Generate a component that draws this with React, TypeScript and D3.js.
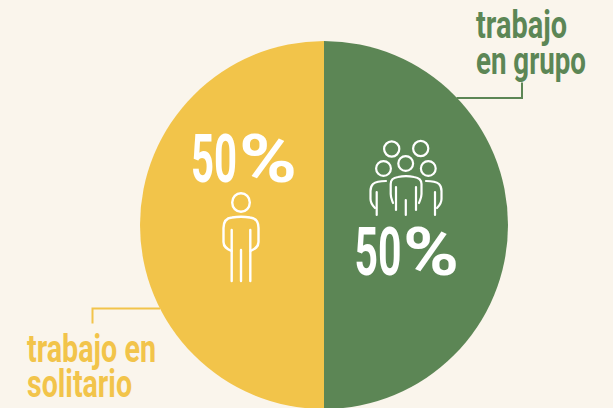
import React from "react";
import * as d3 from "d3";

const width = 613;
const height = 408;
const categories = ["trabajo en grupo", "trabajo en solitario"];
const shares = [50, 50];
const colors = ["#5C8655", "#F2C44A"];
const font = "'Liberation Sans Narrow', 'Roboto', sans-serif";

const labelLines = [
  { text: "trabajo", x: 476, y: 38, len: 91, size: 39, fill: colors[0] },
  { text: "en grupo", x: 476, y: 74, len: 110, size: 39, fill: colors[0] },
  { text: "trabajo en", x: 27, y: 362, len: 129, size: 39, fill: colors[1] },
  { text: "solitario", x: 27, y: 397, len: 105, size: 39, fill: colors[1] },
];
const pctLabels = [
  { value: "50", sign: "%", x: 191, y: 181.5, numLen: 46, signX: 239, signLen: 58 },
  { value: "50", sign: "%", x: 354.5, y: 275, numLen: 47, signX: 403, signLen: 56 },
];

function Person({ cx, top }: { cx: number; top: number }) {
  return (
    <g transform={`translate(${cx},${top})`} fill="none" stroke="#fff" strokeWidth={2.4} strokeLinecap="round" strokeLinejoin="round">
      <ellipse cx={0} cy={9.5} rx={8.8} ry={9.3} />
      <path d="M-9.5,58 C-14,56 -17.5,54 -17.5,49 L-17.5,35 C-17.5,28 -14,25 -9,24.5 C-3,23.5 3,23.5 9,24.5 C14,25 17.5,28 17.5,35 L17.5,49 C17.5,54 14,56 9.5,58" />
      <path d="M-9.3,37 L-9.3,88 M9.3,37 L9.3,88 M0,57 L0,88" />
    </g>
  );
}

function Crowd() {
  return (
    <g fill="none" stroke="#fff" strokeWidth={2.2} strokeLinecap="round" strokeLinejoin="round">
      <circle cx={391.7} cy={149} r={7.6} />
      <circle cx={420.7} cy={148.5} r={7.6} />
      <circle cx={405.7} cy={163.5} r={7.4} />
      <circle cx={383.5} cy={168.5} r={7.4} />
      <circle cx={428.3} cy={168.5} r={7.4} />
      <path d="M393,203 C392,200 390.7,198 390.7,194 L390.7,184 C390.7,179 394,177.5 398,177 C403,176 409,176 414,177 C418,177.5 421.5,179 421.5,184 L421.5,194 C421.5,198 420,200 419,203" />
      <path d="M396,187 L396,210 M416,187 L416,210 M405.8,200 L405.8,215" />
      <path d="M386,181 C380,181 376,181.5 373,184 C371,186 370.5,188 370.5,191 L370.5,199 C370.5,203 372,205 375,208" />
      <path d="M426,181 C432,181 436,181.5 439,184 C441,186 441.5,188 441.5,191 L441.5,199 C441.5,203 440,205 437,208" />
      <path d="M376.7,192 L376.7,215 M435,192 L435,215" />
    </g>
  );
}

export default function App() {
  const pie = d3.pie<number>().sort(null).startAngle(0).endAngle(2 * Math.PI);
  const arc = d3.arc<d3.PieArcDatum<number>>().innerRadius(0).outerRadius(184);
  const arcs = pie(shares);

  return (
    <svg
      width={width}
      height={height}
      viewBox={`0 0 ${width} ${height}`}
      style={{ position: "absolute", left: 0, top: 0, background: "#FAF5EC" }}
      role="img"
      aria-label={categories.join(" / ")}
    >
      <g transform="translate(324,225)">
        {arcs.map((a, i) => (
          <path key={categories[i]} d={arc(a) ?? ""} fill={colors[i]} />
        ))}
      </g>
      <path d="M456.5,98 L522,98 L522,82.5" fill="none" stroke={colors[0]} strokeWidth={2} />
      <path d="M160,308.5 L92.5,308.5 L92.5,323.5" fill="none" stroke={colors[1]} strokeWidth={2} />
      {labelLines.map((l) => (
        <text key={l.text} x={l.x} y={l.y} fontFamily={font} fontWeight={700} fontSize={l.size} fill={l.fill} textLength={l.len} lengthAdjust="spacingAndGlyphs">
          {l.text}
        </text>
      ))}
      {pctLabels.map((l) => (
        <text key={l.x} y={l.y} fontFamily={font} fontWeight={700} fontSize={66} fill="#fff">
          <tspan x={l.x} textLength={l.numLen} lengthAdjust="spacingAndGlyphs">{l.value}</tspan>
          <tspan x={l.signX} textLength={l.signLen} lengthAdjust="spacingAndGlyphs">{l.sign}</tspan>
        </text>
      ))}
      <Person cx={241} top={193} />
      <Crowd />
    </svg>
  );
}
